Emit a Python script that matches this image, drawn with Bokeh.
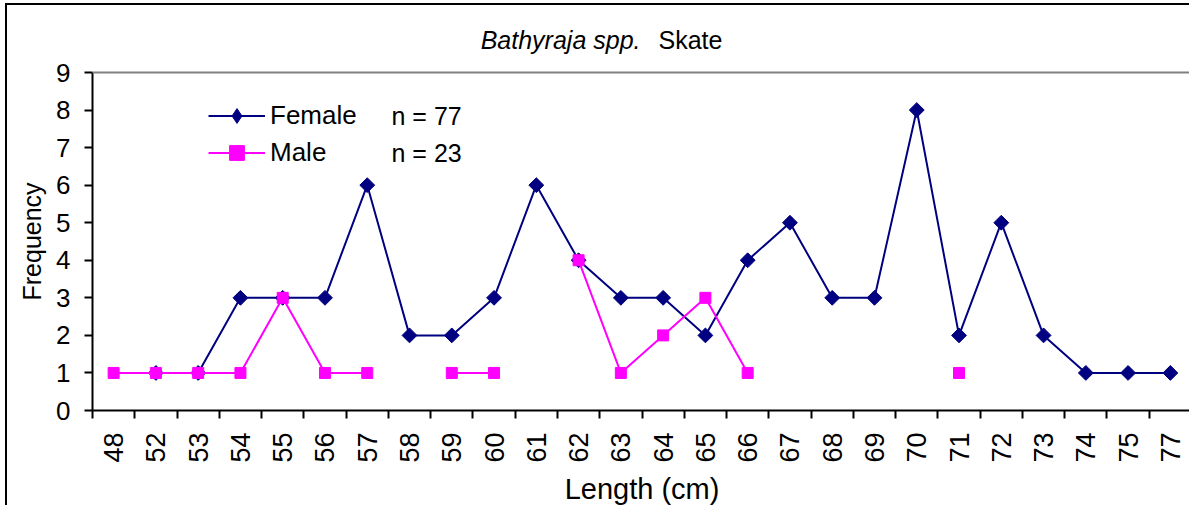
import math
from bokeh.plotting import figure
from bokeh.models import (Range1d, LinearAxis, FixedTicker, Span, Title,
                          Legend, LegendItem, Label)
from bokeh.embed import file_html
from bokeh.resources import INLINE

nan = float("nan")

# ---- data ----
lengths = ["48", "52", "53", "54", "55", "56", "57", "58", "59", "60", "61", "62", "63",
           "64", "65", "66", "67", "68", "69", "70", "71", "72", "73", "74", "75", "77"]
female = [nan, 1, 1, 3, 3, 3, 6, 2, 2, 3, 6, 4, 3, 3, 2, 4, 5, 3, 3, 8, 2, 5, 2, 1, 1, 1]
male = [1, 1, 1, 1, 3, 1, 1, nan, 1, 1, nan, 4, 1, 2, 3, 1, nan, nan, nan, nan, 1,
        nan, nan, nan, nan, nan]
y_ticks = [0, 1, 2, 3, 4, 5, 6, 7, 8, 9]
series_names = ["Female", "Male"]
series_n = [77, 23]
title_italic = "Bathyraja spp."
title_plain = "Skate"
x_title = "Length (cm)"
y_title = "Frequency"

FONT = "Liberation Sans"
NAVY = "#000080"
MAGENTA = "#FF00FF"

# ---- layout (pixels) ----
W, H = 1184, 502
FRAME_LEFT, FRAME_BOTTOM = 85, 97
AXIS_PX = 338          # pixel height of the 0..9 value axis
frame_h = H - FRAME_BOTTOM
y_top = y_ticks[-1] * frame_h / AXIS_PX   # frame extends above 9 to hold the title

# category slots: each length class occupies one unit; marks sit at slot centres
n = len(lengths)
slot = [i + 0.5 for i in range(n)]
bounds = list(range(n + 1))

p = figure(width=W, height=H,
           x_range=Range1d(0, n),
           y_range=Range1d(y_ticks[0], y_top),
           x_axis_location=None, y_axis_location=None,
           output_backend="svg", toolbar_location=None,
           min_border_left=FRAME_LEFT, min_border_right=0,
           min_border_top=0, min_border_bottom=FRAME_BOTTOM)
p.outline_line_color = None
p.grid.visible = False
p.background_fill_color = "white"
p.border_fill_color = "white"
p.styles = {"margin-left": "5px", "margin-top": "3px",
            "border-left": "2px solid black", "border-top": "2px solid black"}

xaxis = LinearAxis(ticker=FixedTicker(ticks=slot, minor_ticks=bounds),
                   major_label_overrides={c: lab for c, lab in zip(slot, lengths)},
                   major_tick_out=0, major_tick_in=0,
                   major_tick_line_color=None,
                   minor_tick_out=8, minor_tick_in=0,
                   minor_tick_line_color="black", minor_tick_line_width=2,
                   axis_line_color="black", axis_line_width=2,
                   major_label_orientation=math.pi / 2,
                   major_label_standoff=14,
                   major_label_text_font=FONT, major_label_text_font_size="27px",
                   major_label_text_color="black",
                   axis_label=x_title, axis_label_standoff=7,
                   axis_label_text_font=FONT, axis_label_text_font_size="29px",
                   axis_label_text_font_style="normal", axis_label_text_color="black")
p.add_layout(xaxis, "below")

yaxis = LinearAxis(ticker=FixedTicker(ticks=y_ticks, minor_ticks=[]),
                   bounds=(y_ticks[0], y_ticks[-1]),
                   major_tick_out=8, major_tick_in=0,
                   major_tick_line_color="black", major_tick_line_width=2,
                   axis_line_color="black", axis_line_width=2,
                   major_label_standoff=14,
                   major_label_text_font=FONT, major_label_text_font_size="26px",
                   major_label_text_color="black")
p.add_layout(yaxis, "left")

# y title centred on the 0..9 axis, not on the taller frame
p.add_layout(Title(text=y_title, align="left", offset=110, vertical_align="middle",
                   standoff=14, text_font=FONT, text_font_size="25px",
                   text_font_style="normal", text_color="black"), "left")

# grey plot-area top border at the axis maximum
p.add_layout(Span(location=y_ticks[-1], dimension="width",
                  line_color="#808080", line_width=2))

# series
fl = p.line(slot, female, line_color=NAVY, line_width=2)
fs = p.scatter(slot, female, marker="square", angle=math.pi / 4, size=10.5,
               fill_color=NAVY, line_color=NAVY)
ml = p.line(slot, male, line_color=MAGENTA, line_width=2)
ms = p.scatter(slot, male, marker="square", size=11,
               fill_color=MAGENTA, line_color=MAGENTA)
# legend swatch for the female diamond (draws nothing in the plot)
f_key = p.scatter(x=[slot[0]], y=[nan], marker="diamond", size=17,
                  fill_color=NAVY, line_color=NAVY)

legend = Legend(items=[LegendItem(label=series_names[0], renderers=[fl, f_key]),
                       LegendItem(label=series_names[1], renderers=[ml, ms])],
                location=(116, 239.5), orientation="vertical",
                padding=0, margin=0, spacing=0,
                glyph_width=57, glyph_height=37, label_height=37,
                label_standoff=5,
                label_text_font=FONT, label_text_font_size="26px",
                label_text_color="black",
                border_line_color=None, background_fill_alpha=0)
p.add_layout(legend, "center")

for i, (nm, cnt) in enumerate(zip(series_names, series_n)):
    p.add_layout(Label(x=299, y=295 - 37 * i, x_units="screen", y_units="screen",
                       text=f"n = {cnt}", text_baseline="middle", text_align="left",
                       text_font=FONT, text_font_size="25px", text_color="black"))

p.add_layout(Label(x=548, y=371, x_units="screen", y_units="screen",
                   text=title_italic, text_baseline="middle", text_align="right",
                   text_font=FONT, text_font_size="25px",
                   text_font_style="italic", text_color="black"))
p.add_layout(Label(x=566, y=371, x_units="screen", y_units="screen",
                   text=title_plain, text_baseline="middle", text_align="left",
                   text_font=FONT, text_font_size="25px", text_color="black"))

open("out.html", "w").write(file_html(p, INLINE))
